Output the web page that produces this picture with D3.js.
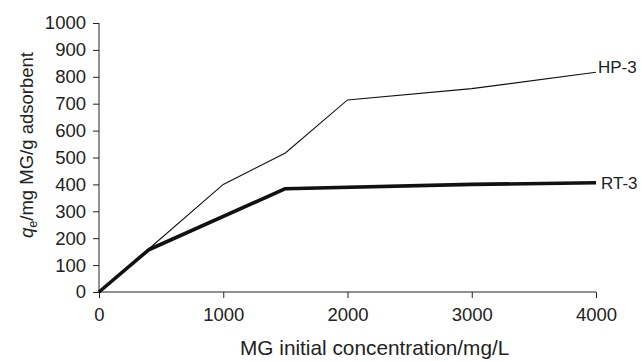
<!DOCTYPE html>
<html lang="en">
<head>
    <meta charset="UTF-8">
    <title>MG adsorption</title>
    <script src="https://d3js.org/d3.v7.min.js"></script>
    <style>
        body {
            margin: 0;
            padding: 0;
            background: #fff;
            font-family: "Liberation Sans", Arial, sans-serif;
        }
        .axis text {
            font-family: "Liberation Sans", Arial, sans-serif;
            font-size: 18.5px;
            fill: #222;
        }
        .axis path, .axis line {
            stroke: #222;
        }
    </style>
</head>
<body>
    <svg class="chart"></svg>
    <script>
        const concentrations = [0, 400, 1000, 1500, 2000, 3000, 4000];
        const hp3Values = [0, 160, 400, 517, 714, 756, 817];
        const rt3Concentrations = [0, 400, 1500, 3000, 4000];
        const rt3Values = [0, 157, 384, 400, 406];
        const xTicks = [0, 1000, 2000, 3000, 4000];
        const yTicks = [0, 100, 200, 300, 400, 500, 600, 700, 800, 900, 1000];

        const width = 641;
        const height = 361;
        const margin = { left: 99, right: 45, top: 23, bottom: 69 };

        const svg = d3.select(".chart")
            .attr("width", width)
            .attr("height", height);

        const x = d3.scaleLinear()
            .domain([0, 4000])
            .range([margin.left, width - margin.right]);

        const y = d3.scaleLinear()
            .domain([0, 1000])
            .range([height - margin.bottom, margin.top]);

        // axes
        svg.append("g")
            .attr("class", "axis")
            .attr("transform", `translate(0,${y(0)})`)
            .call(d3.axisBottom(x).tickValues(xTicks).tickSize(6).tickPadding(10).tickFormat(d3.format("d")))
            .call(g => g.select(".domain").attr("d", `M${x(0)},0H${x(4000)}`));

        svg.append("g")
            .attr("class", "axis")
            .attr("transform", `translate(${x(0)},0)`)
            .call(d3.axisLeft(y).tickValues(yTicks).tickSize(6).tickPadding(7).tickFormat(d3.format("d")))
            .call(g => g.select(".domain").attr("d", `M0,${y(0)}V${y(1000)}`));

        const line = d3.line()
            .x(d => x(d[0]))
            .y(d => y(d[1]));

        const hp3 = concentrations.map((c, i) => [c, hp3Values[i]]);
        const rt3 = rt3Concentrations.map((c, i) => [c, rt3Values[i]]);

        svg.append("path")
            .datum(hp3)
            .attr("fill", "none")
            .attr("stroke", "#111")
            .attr("stroke-width", 1.1)
            .attr("d", line);

        svg.append("path")
            .datum(rt3)
            .attr("fill", "none")
            .attr("stroke", "#111")
            .attr("stroke-width", 3.6)
            .attr("stroke-linejoin", "round")
            .attr("d", line);

        // series labels
        svg.append("text")
            .attr("x", x(4000) + 2)
            .attr("y", y(hp3Values[hp3Values.length - 1]) + 1)
            .style("font-size", "17px")
            .attr("fill", "#222")
            .text("HP-3");

        svg.append("text")
            .attr("x", x(4000) + 5)
            .attr("y", y(rt3Values[rt3Values.length - 1]))
            .attr("dy", "0.35em")
            .style("font-size", "17px")
            .attr("fill", "#222")
            .text("RT-3");

        // axis titles
        svg.append("text")
            .attr("x", 240)
            .attr("y", 355)
            .attr("text-anchor", "start")
            .style("font-size", "20.8px")
            .attr("fill", "#222")
            .text("MG initial concentration/mg/L");

        const yTitle = svg.append("text")
            .attr("transform", "translate(33,145) rotate(-90)")
            .attr("text-anchor", "middle")
            .style("font-size", "18.5px")
            .attr("fill", "#222");
        yTitle.append("tspan").style("font-style", "italic").text("q");
        yTitle.append("tspan").attr("dy", 4).style("font-size", "12.5px").text("e");
        yTitle.append("tspan").attr("dy", -4).text("/mg MG/g adsorbent");
    </script>
</body>
</html>
